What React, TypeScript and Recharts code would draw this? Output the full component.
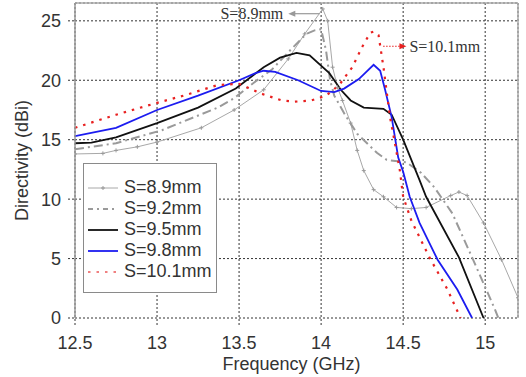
import React from 'react';
import {
  LineChart, Line, XAxis, YAxis, CartesianGrid, ReferenceLine, ReferenceDot, Legend,
} from 'recharts';

const xTicks = [12.5, 13, 13.5, 14, 14.5, 15];
const yTicks = [0, 5, 10, 15, 20, 25];

const f89 = [12.5, 12.67, 12.75, 12.88, 13.0, 13.27, 13.47, 13.65, 13.8, 13.9, 14.01, 14.04, 14.07, 14.1, 14.13, 14.18, 14.22, 14.26, 14.32, 14.38, 14.46, 14.55, 14.64, 14.79, 14.84, 14.89, 14.99, 15.1, 15.2];
const v89 = [13.8, 13.85, 14.1, 14.4, 14.8, 16.0, 17.5, 19.2, 21.8, 23.9, 26.0, 25.0, 21.1, 19.4, 18.3, 16.4, 14.1, 12.4, 10.8, 10.2, 9.3, 9.2, 9.3, 10.3, 10.6, 10.3, 8.0, 4.9, 1.7];

const f92 = [12.5, 12.6, 12.75, 13.03, 13.37, 13.47, 13.6, 13.7, 13.81, 13.91, 13.96, 14.0, 14.03, 14.055, 14.08, 14.15, 14.22, 14.34, 14.4, 14.52, 14.61, 14.69, 14.8, 14.92, 15.0, 15.06, 15.08];
const v92 = [14.2, 14.4, 14.7, 15.8, 17.7, 18.5, 19.9, 20.9, 22.5, 23.9, 24.2, 24.3, 22.5, 20.0, 18.7, 17.0, 15.5, 13.9, 13.3, 13.1, 12.2, 11.0, 8.8, 5.1, 2.6, 0.7, 0];

const f95 = [12.5, 12.6, 12.75, 13.0, 13.25, 13.48, 13.65, 13.75, 13.85, 13.93, 14.05, 14.12, 14.18, 14.26, 14.38, 14.43, 14.5, 14.6, 14.64, 14.84, 14.99];
const v95 = [14.7, 14.75, 15.2, 16.4, 17.7, 19.3, 21.1, 21.9, 22.3, 22.1, 20.6, 19.2, 18.3, 17.7, 17.6, 17.1, 15.0, 11.6, 10.2, 5.1, 0];

const f98 = [12.5, 12.75, 13.0, 13.25, 13.5, 13.6, 13.65, 13.72, 13.86, 14.0, 14.08, 14.14, 14.23, 14.32, 14.36, 14.39, 14.43, 14.47, 14.5, 14.54, 14.6, 14.71, 14.83, 14.92];
const v98 = [15.3, 16.0, 17.5, 18.7, 20.0, 20.6, 20.8, 20.7, 20.0, 19.1, 19.0, 19.3, 20.1, 21.3, 20.8, 19.2, 16.9, 13.5, 12.3, 10.2, 8.0, 4.9, 2.4, 0];

const f101 = [12.5, 12.75, 13.0, 13.16, 13.37, 13.5, 13.55, 13.63, 13.76, 13.84, 13.94, 14.03, 14.11, 14.19, 14.25, 14.3, 14.32, 14.35, 14.38, 14.42, 14.45, 14.48, 14.5, 14.55, 14.66, 14.77, 14.85];
const v101 = [16.0, 17.1, 18.1, 18.7, 19.6, 19.7, 19.4, 18.9, 18.3, 18.2, 18.3, 18.7, 19.6, 21.1, 22.8, 24.0, 24.1, 23.8, 21.1, 16.9, 14.7, 12.4, 10.2, 8.2, 5.1, 2.4, 0];

const labels = ['S=8.9mm', 'S=9.2mm', 'S=9.5mm', 'S=9.8mm', 'S=10.1mm'];

const zip = (f: number[], v: number[]) => f.map((x, i) => ({ f: x, v: v[i] }));

const series = [
  { name: labels[0], data: zip(f89, v89), stroke: '#a8a8a8', width: 1, dash: undefined as string | undefined, marker: true },
  { name: labels[1], data: zip(f92, v92), stroke: '#9a9a9a', width: 2, dash: '9 4 2 4', marker: false },
  { name: labels[2], data: zip(f95, v95), stroke: '#111111', width: 1.8, dash: undefined, marker: false },
  { name: labels[3], data: zip(f98, v98), stroke: '#1c1cf0', width: 1.8, dash: undefined, marker: false },
  { name: labels[4], data: zip(f101, v101), stroke: '#e82020', width: 2.2, dash: '2.5 6', marker: false },
];

const CrossDot = (props: any) => {
  const { cx, cy } = props;
  if (cx == null || cy == null) return null;
  return <path d={`M${cx - 2},${cy}h4M${cx},${cy - 2}v4`} stroke="#999" strokeWidth={1} fill="none" />;
};

const LegendBox = () => (
  <div style={{
    width: 134, height: 130, boxSizing: 'border-box', border: '1.5px solid #8a8a8a', background: '#fff',
    paddingTop: 13, fontFamily: '"Liberation Sans", Arial, sans-serif', fontSize: 18, color: '#333',
  }}>
    {series.map((s) => (
      <div key={s.name} style={{ height: 21, display: 'flex', alignItems: 'center' }}>
        <svg width={36} height={10} style={{ marginLeft: 4 }}>
          <line x1={0} y1={5} x2={30} y2={5} stroke={s.name === labels[4] ? '#f08080' : s.stroke}
            strokeWidth={s.width} strokeDasharray={s.name === labels[1] ? '5 4 2 4' : s.dash} />
          {s.marker && <path d="M13,5h4M15,3v4" stroke="#999" strokeWidth={1} />}
        </svg>
        <span style={{ lineHeight: '21px' }}>{s.name}</span>
      </div>
    ))}
  </div>
);

const Arrow89 = (props: any) => {
  const { cx, cy } = props;
  return (
    <g>
      <path d={`M${cx},${cy} l7,-3 l0,6 z`} fill="#999" />
      <text x={cx - 5} y={cy} dy="0.35em" textAnchor="end" fontFamily='"Liberation Serif", "Times New Roman", serif' fontSize={16} fill="#333">S=8.9mm</text>
    </g>
  );
};

const Arrow101 = (props: any) => {
  const { cx, cy } = props;
  return (
    <g>
      <path d={`M${cx},${cy} l-7,-3 l0,6 z`} fill="#e82020" />
      <text x={cx + 3} y={cy} dy="0.35em" textAnchor="start" fontFamily='"Liberation Serif", "Times New Roman", serif' fontSize={16} fill="#333">S=10.1mm</text>
    </g>
  );
};

const tickStyle = { fontFamily: '"Liberation Sans", Arial, sans-serif', fontSize: 18, fill: '#333' };

export default function App() {
  return (
    <div style={{ position: 'absolute', left: 0, top: 0, background: '#fff' }}>
      <LineChart width={526} height={377} margin={{ top: 3, right: 8, bottom: 0, left: 0 }}>
        <CartesianGrid stroke="#333" strokeDasharray="2 2" strokeWidth={1} />
        <XAxis type="number" dataKey="f" domain={[12.5, 15.2]} ticks={xTicks} allowDataOverflow
          axisLine={false} tickLine={{ stroke: '#333', strokeDasharray: '2 2' }} tickSize={7} tickMargin={11}
          height={59} tick={tickStyle}
          label={{ value: 'Frequency (GHz)', position: 'insideBottom', offset: 7, dx: -5, style: { ...tickStyle, fontSize: 18 } }} />
        <YAxis type="number" domain={[0, 26.5]} ticks={yTicks} allowDataOverflow width={75}
          axisLine={{ stroke: '#999', strokeWidth: 1.5 }} tickLine={{ stroke: '#333', strokeDasharray: '2 2' }} tickSize={7} tickMargin={7}
          tick={tickStyle}
          label={{ value: 'Directivity (dBi)', angle: -90, position: 'insideLeft', offset: 22, style: { ...tickStyle, textAnchor: 'middle' } }} />
        <ReferenceLine y={26.5} stroke="#aaa" strokeWidth={1.5} ifOverflow="visible" />
        <ReferenceLine x={15.2} stroke="#aaa" strokeWidth={1.5} ifOverflow="visible" />
        {series.map((s) => (
          <Line key={s.name} data={s.data} dataKey="v" name={s.name} type="linear"
            stroke={s.stroke} strokeWidth={s.width} strokeDasharray={s.dash}
            dot={s.marker ? <CrossDot /> : false} activeDot={false} isAnimationActive={false} />
        ))}
        <ReferenceLine segment={[{ x: 13.82, y: 25.6 }, { x: 13.99, y: 25.6 }]} stroke="#999" strokeWidth={1.2} />
        <ReferenceDot x={13.8} y={25.6} r={0} shape={<Arrow89 />} />
        <ReferenceLine segment={[{ x: 14.378, y: 22.86 }, { x: 14.5, y: 22.86 }]} stroke="#e82020" strokeWidth={1.2} strokeDasharray="1.5 1.5" />
        <ReferenceDot x={14.52} y={22.86} r={0} shape={<Arrow101 />} />
        <Legend layout="vertical" align="center" verticalAlign="middle" content={<LegendBox />}
          wrapperStyle={{ position: 'absolute', left: 83, top: 163, width: 134, height: 130 }} />
      </LineChart>
    </div>
  );
}
